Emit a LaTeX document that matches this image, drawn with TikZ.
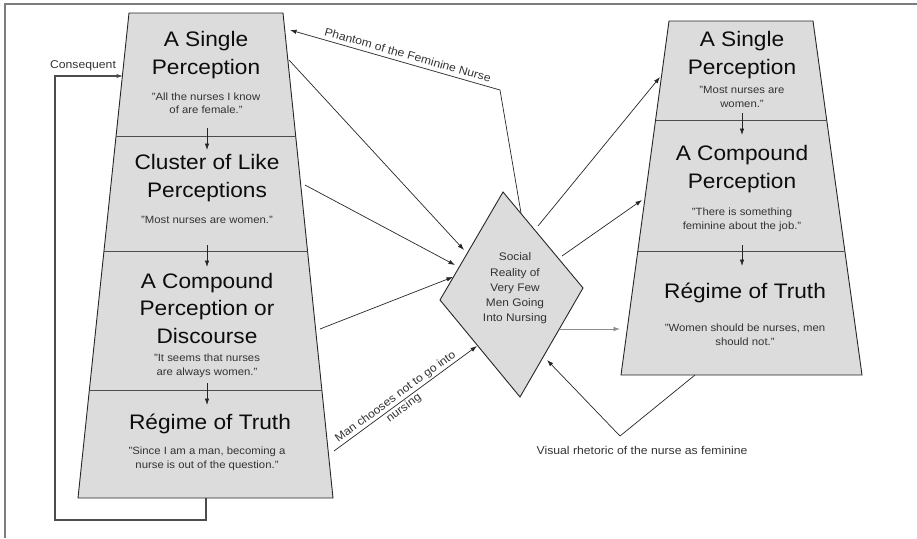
\documentclass[tikz,border=0pt]{standalone}
\usepackage{fontspec}
\setmainfont{Liberation Sans}[FakeStretch=1.08]
\usetikzlibrary{arrows.meta}
\definecolor{boxfill}{RGB}{220,220,220}
\definecolor{framegray}{RGB}{125,125,125}
\tikzset{
  box/.style={fill=boxfill, draw=black!85, line width=0.9pt},
  divider/.style={draw=black!70, line width=0.7pt},
  conn/.style={draw=black!85, line width=0.7pt, -{Latex[length=6.5pt,width=4.5pt]}},
  lightconn/.style={conn, draw=black!45},
  loopline/.style={draw=black!70, line width=1.1pt, -{Latex[length=6.5pt,width=4.5pt]}},
  title/.style={font=\fontsize{21}{27.5}\selectfont, align=center, inner sep=0pt, text=black!95},
  quote/.style={font=\fontsize{10.5}{14}\selectfont, align=center, inner sep=0pt, text=black!80},
  dtext/.style={font=\fontsize{11}{15.3}\selectfont, align=center, inner sep=0pt, text=black!80},
  lbl/.style={font=\fontsize{11.3}{14}\selectfont, text=black!80, inner sep=1pt},
}
\begin{document}
\begin{tikzpicture}[x=1pt,y=-1pt]
\useasboundingbox (0,0) rectangle (917,538);
% frame
\draw[framegray, line width=1.6pt] (5,538) -- (5,4) -- (917,4);

% ---------- left trapezoid ----------
\coordinate (LA) at (129,13);
\coordinate (LB) at (283,13);
\coordinate (LC) at (333,498);
\coordinate (LD) at (78,498);
\filldraw[box] (LA) -- (LB) -- (LC) -- (LD) -- cycle;
\coordinate (L1a) at (116.1,136); \coordinate (L1b) at (295.7,136);
\coordinate (L2a) at (104.0,251); \coordinate (L2b) at (307.5,251);
\coordinate (L3a) at (89.4,390);  \coordinate (L3b) at (321.9,390);
\draw[divider] (L1a) -- (L1b);
\draw[divider] (L2a) -- (L2b);
\draw[divider] (L3a) -- (L3b);

\node[title] (lt1) at (206,55) {A Single\\Perception};
\node[quote, font=\fontsize{10.5}{12.5}\selectfont] (lq1) at (206,103) {"All the nurses I know\\of are female."};
\node[title] (lt2) at (207,178) {Cluster of Like\\Perceptions};
\node[quote] (lq2) at (207,220) {"Most nurses are women."};
\node[title] (lt3) at (207,308) {A Compound\\Perception or\\Discourse};
\node[quote] (lq3) at (207,366) {"It seems that nurses\\are always women."};
\node[title] (lt4) at (210,424) {Régime of Truth};
\node[quote] (lq4) at (207,459) {"Since I am a man, becoming a\\nurse is out of the question."};

\coordinate (la1) at (207,128); \coordinate (la1e) at (207,150);
\coordinate (la2) at (207,245); \coordinate (la2e) at (207,267);
\coordinate (la3) at (207,383); \coordinate (la3e) at (207,405);
\draw[conn] (la1) -- (la1e);
\draw[conn] (la2) -- (la2e);
\draw[conn] (la3) -- (la3e);

% ---------- right trapezoid ----------
\coordinate (RA) at (669,21);
\coordinate (RB) at (813,21);
\coordinate (RC) at (862,375);
\coordinate (RD) at (621,375);
\filldraw[box] (RA) -- (RB) -- (RC) -- (RD) -- cycle;
\coordinate (R1a) at (655.6,120); \coordinate (R1b) at (826.7,120);
\coordinate (R2a) at (637.8,251); \coordinate (R2b) at (844.8,251);
\draw[divider] (R1a) -- (R1b);
\draw[divider] (R2a) -- (R2b);

\node[title] (rt1) at (742,55) {A Single\\Perception};
\node[quote] (rq1) at (742,97) {"Most nurses are\\women."};
\node[title] (rt2) at (742,169) {A Compound\\Perception};
\node[quote] (rq2) at (742,219.5) {"There is something\\feminine about the job."};
\node[title] (rt3) at (745,293) {Régime of Truth};
\node[quote] (rq3) at (745,335) {"Women should be nurses, men\\should not."};

\coordinate (ra1) at (742,113); \coordinate (ra1e) at (742,135);
\coordinate (ra2) at (742,245); \coordinate (ra2e) at (742,266);
\draw[conn] (ra1) -- (ra1e);
\draw[conn] (ra2) -- (ra2e);

% ---------- diamond ----------
\coordinate (DT) at (503,192);
\coordinate (DR) at (583,288);
\coordinate (DB) at (520,397);
\coordinate (DL) at (440,300);
\filldraw[box] (DT) -- (DR) -- (DB) -- (DL) -- cycle;
\node[dtext] (dtx) at (515,288.5) {Social\\Reality of\\Very Few\\Men Going\\Into Nursing};

% ---------- connectors ----------
\coordinate (c1s) at (289,60);  \coordinate (c1e) at (464,250);
\coordinate (c2s) at (305,185); \coordinate (c2e) at (455,265);
\coordinate (c3s) at (320,329); \coordinate (c3e) at (453,277);
\coordinate (c4s) at (334,451); \coordinate (c4e) at (477,346);
\draw[conn] (c1s) -- (c1e);
\draw[conn] (c2s) -- (c2e);
\draw[conn] (c3s) -- (c3e);
\draw[conn] (c4s) -- node[lbl, sloped, pos=0.46, align=center] {Man chooses not to go into\\nursing} (c4e);

\coordinate (c5s) at (538,226); \coordinate (c5e) at (660,77);
\coordinate (c6s) at (562,256); \coordinate (c6e) at (642,200);
\coordinate (c7s) at (560,329); \coordinate (c7e) at (620,329);
\draw[conn] (c5s) -- (c5e);
\draw[conn] (c6s) -- (c6e);
\draw[lightconn] (c7s) -- (c7e);

% phantom
\coordinate (p0) at (521,213);
\coordinate (pk) at (500,90);
\coordinate (p1) at (290,30);
\draw[conn] (p0) -- (pk) -- node[lbl, sloped, above=3pt, pos=0.45] {Phantom of the Feminine Nurse} (p1);

% visual rhetoric
\coordinate (v0) at (695,375);
\coordinate (vk) at (620,436);
\coordinate (v1) at (547,360);
\draw[conn] (v0) -- (vk) -- (v1);
\node[lbl] (vl) at (642,450) {Visual rhetoric of the nurse as feminine};

% consequent loop
\coordinate (q0) at (206,498);
\coordinate (q1) at (206,520);
\coordinate (q2) at (55,520);
\coordinate (q3) at (55,76);
\coordinate (q4) at (123,76);
\draw[loopline] (q0) -- (q1) -- (q2) -- (q3) -- (q4);
\node[lbl] (cl) at (83,66) {Consequent};
\end{tikzpicture}
\end{document}
